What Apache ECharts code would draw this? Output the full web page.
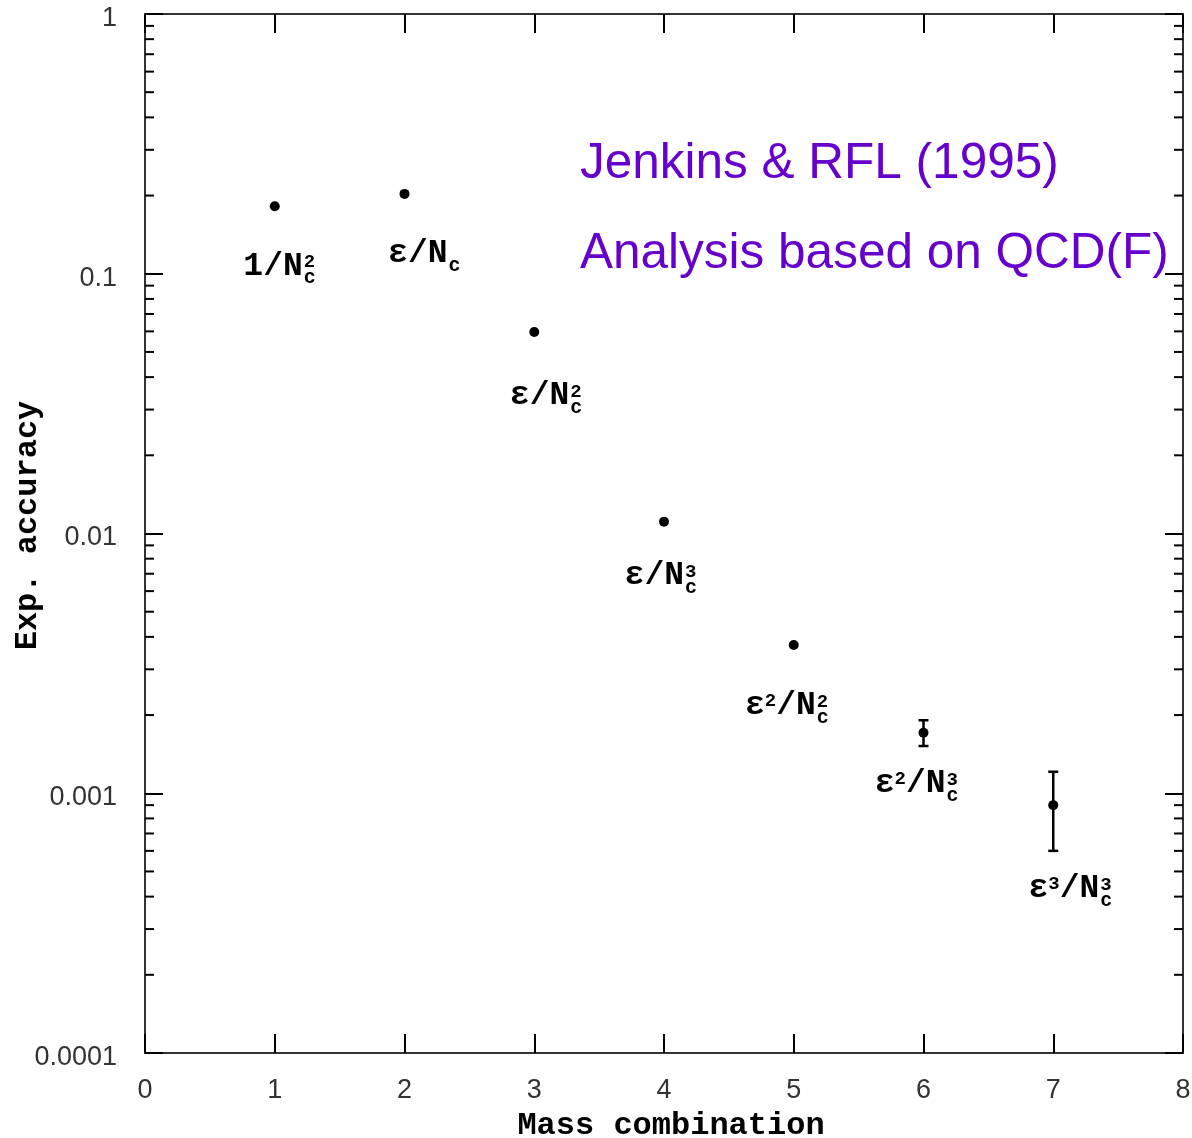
<!DOCTYPE html>
<html>
<head>
<meta charset="utf-8">
<script src="https://cdn.jsdelivr.net/npm/echarts@6/dist/echarts.min.js"></script>
<style>
  html, body { margin: 0; padding: 0; background: #fff; }
  #chart { width: 1192px; height: 1138px; }
</style>
</head>
<body>
<div id="chart"></div>
<script>
// mass combinations and their experimental accuracy
const xValues = [1, 2, 3, 4, 5, 6, 7];
const accuracy = [0.182, 0.203, 0.0597, 0.0111, 0.00372, 0.00171, 0.00090];
// error bars (only the last two are visible)
const errX = [6, 7];
const errLow = [0.00152, 0.00060];
const errHigh = [0.00191, 0.00121];

// point labels: lead symbol, its exponent, exponent of N_c
const labelLead = ['1', 'ε', 'ε', 'ε', 'ε', 'ε', 'ε'];
const labelLeadExp = ['', '', '', '', '2', '2', '3'];
const labelNExp = ['2', '', '2', '3', '2', '3', '3'];
// pixel offset from the point to the right end / baseline of "N"
const labelOffsets = [[28, 71], [43, 71], [35, 75], [20, 65], [22, 72], [22, 62], [46, 95]];

const yTickLabels = ['0.0001', '0.001', '0.01', '0.1', '1'];
const yMinorTicks = [];
[0.0001, 0.001, 0.01, 0.1].forEach(function (d) {
  for (let k = 2; k <= 9; k++) yMinorTicks.push(+(d * k).toPrecision(3));
});

const chart = echarts.init(document.getElementById('chart'));

const tickStyle = { color: '#000', width: 2 };
const lineStyle = { color: '#333', width: 2 };
const labelFont = 'Liberation Mono';
function nameStyle(pad) {
  return { fontFamily: 'Liberation Mono', fontWeight: 'bold', fontSize: 32, color: '#000', padding: pad };
}

function xAxisDef(pos, showLabel) {
  return {
    type: 'value', position: pos, min: 0, max: 8, interval: 1,
    axisLine: { show: true, onZero: false, lineStyle: lineStyle },
    axisTick: { show: true, inside: true, length: 19, lineStyle: tickStyle },
    axisLabel: { show: showLabel, fontSize: 27, color: '#333', margin: 24, fontFamily: 'Liberation Sans' },
    splitLine: { show: false }
  };
}
function yAxisDef(pos, showLabel) {
  return {
    type: 'log', logBase: 10, position: pos, min: 0.0001, max: 1,
    axisLine: { show: true, onZero: false, lineStyle: lineStyle },
    axisTick: { show: true, inside: true, length: 18, lineStyle: tickStyle },
    axisLabel: {
      show: showLabel, fontSize: 27, color: '#333', margin: 28, fontFamily: 'Liberation Sans',
      verticalAlign: 'top', lineHeight: 9,
      formatter: function (v) { return yTickLabels[Math.round(Math.log10(v)) + 4]; }
    },
    splitLine: { show: false }
  };
}

const xb = xAxisDef('bottom', true);
xb.name = 'Mass combination';
xb.nameLocation = 'middle';
xb.nameGap = 57;
xb.nameTextStyle = nameStyle([0, 0, 0, 14]);
const yl = yAxisDef('left', true);
yl.name = 'Exp. accuracy';
yl.nameLocation = 'middle';
yl.nameGap = 101;
yl.nameMoveOverlap = false;
yl.nameTextStyle = nameStyle([0, 0, 0, 16]);

chart.setOption({
  animation: false,
  grid: { left: 145, right: 9, top: 14, bottom: 85, containLabel: false, outerBoundsMode: 'none' },
  xAxis: [xb, xAxisDef('top', false)],
  yAxis: [yl, yAxisDef('right', false)],
  graphic: [
    { type: 'text', left: 580, top: 139, style: { text: 'Jenkins & RFL (1995)', fontSize: 49.5, fontFamily: 'Liberation Sans', fill: '#6600cc' } },
    { type: 'text', left: 580, top: 229, style: { text: 'Analysis based on QCD(F)', fontSize: 49.5, fontFamily: 'Liberation Sans', fill: '#6600cc' } }
  ],
  series: [
    {
      // log-spaced minor ticks on both vertical edges
      type: 'custom', silent: true, clip: false,
      data: yMinorTicks.map(function (v) { return [0, v]; }),
      renderItem: function (params, api) {
        const v = api.value(1);
        const l = api.coord([0, v]);
        const r = api.coord([8, v]);
        return {
          type: 'group', children: [
            { type: 'line', shape: { x1: l[0], y1: l[1], x2: l[0] + 9, y2: l[1] }, style: { stroke: '#000', lineWidth: 2 } },
            { type: 'line', shape: { x1: r[0] - 9, y1: r[1], x2: r[0], y2: r[1] }, style: { stroke: '#000', lineWidth: 2 } }
          ]
        };
      }
    },
    {
      type: 'custom', silent: true,
      data: errX.map(function (x, i) { return [x, errLow[i], errHigh[i]]; }),
      renderItem: function (params, api) {
        const lo = api.coord([api.value(0), api.value(1)]);
        const hi = api.coord([api.value(0), api.value(2)]);
        const st = { stroke: '#000', lineWidth: 2.5 };
        return {
          type: 'group', children: [
            { type: 'line', shape: { x1: lo[0], y1: lo[1], x2: hi[0], y2: hi[1] }, style: st },
            { type: 'line', shape: { x1: lo[0] - 5, y1: lo[1], x2: lo[0] + 5, y2: lo[1] }, style: st },
            { type: 'line', shape: { x1: hi[0] - 5, y1: hi[1], x2: hi[0] + 5, y2: hi[1] }, style: st }
          ]
        };
      }
    },
    {
      type: 'scatter', symbol: 'circle', symbolSize: 10,
      itemStyle: { color: '#000', opacity: 1 },
      data: xValues.map(function (x, i) { return [x, accuracy[i]]; })
    },
    {
      type: 'custom', silent: true, clip: false,
      data: xValues.map(function (x, i) { return [x, accuracy[i], i]; }),
      renderItem: function (params, api) {
        const i = api.value(2);
        const p = api.coord([api.value(0), api.value(1)]);
        const ax = p[0] + labelOffsets[i][0];
        const by = p[1] + labelOffsets[i][1];
        let main = labelLead[i];
        if (labelLeadExp[i]) main += '{e|' + labelLeadExp[i] + '}';
        main += '/N';
        const children = [
          {
            type: 'text', x: ax, y: by - 11,
            style: {
              text: main, align: 'right', verticalAlign: 'middle',
              fontFamily: labelFont, fontWeight: 'bold', fontSize: 33, fill: '#000',
              rich: { e: { fontFamily: labelFont, fontWeight: 'bold', fontSize: 19, verticalAlign: 'top', padding: [2, 0, 0, 0] } }
            }
          },
          {
            type: 'text', x: ax + 1, y: by + 1,
            style: { text: 'c', align: 'left', verticalAlign: 'middle', fontFamily: labelFont, fontWeight: 'bold', fontSize: 20, fill: '#000' }
          }
        ];
        if (labelNExp[i]) {
          children.push({
            type: 'text', x: ax + 1, y: by - 15,
            style: { text: labelNExp[i], align: 'left', verticalAlign: 'middle', fontFamily: labelFont, fontWeight: 'bold', fontSize: 19, fill: '#000' }
          });
        }
        return { type: 'group', children: children };
      }
    }
  ]
});
</script>
</body>
</html>
